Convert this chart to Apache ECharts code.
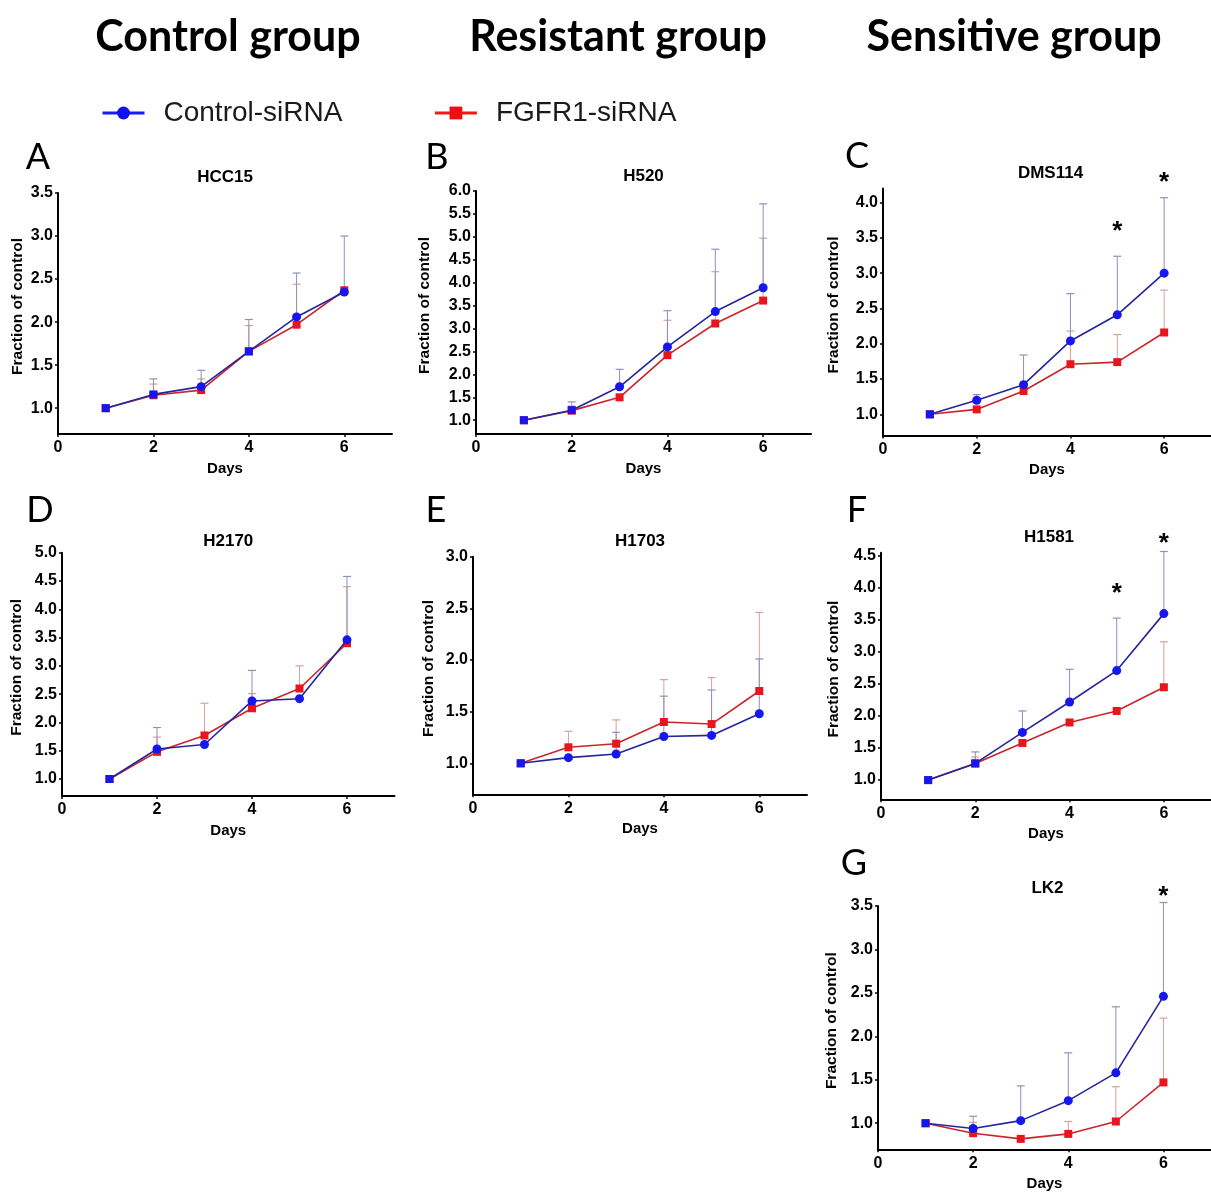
<!DOCTYPE html>
<html><head><meta charset="utf-8">
<script src="https://cdn.jsdelivr.net/npm/echarts@6/dist/echarts.min.js"></script>
<style>html,body{margin:0;padding:0;background:#fff}#chart{width:1211px;height:1195px}</style>
</head><body><div id="chart"></div>
<script>
// ---------- DATA ----------
const days = [1, 2, 3, 4, 5, 6];
const xTickLabels = [0, 2, 4, 6];
const seriesNames = ['Control-siRNA', 'FGFR1-siRNA'];
const groupTitles = ['Control group', 'Resistant group', 'Sensitive group'];
const panelLetters = ['A', 'B', 'C', 'D', 'E', 'F', 'G'];
const cellLines = ['HCC15', 'H520', 'DMS114', 'H2170', 'H1703', 'H1581', 'LK2'];

// HCC15
const ctrlHCC15 = [1.00, 1.16, 1.25, 1.66, 2.06, 2.35];
const fgfrHCC15 = [1.00, 1.15, 1.21, 1.66, 1.97, 2.37];
const ctrlErrHCC15 = [null, 1.34, 1.44, 2.03, 2.57, 3.00];
const fgfrErrHCC15 = [null, 1.28, 1.34, 1.96, 2.44, null];
const yTicksHCC15 = [1.0, 1.5, 2.0, 2.5, 3.0, 3.5];
// H520
const ctrlH520 = [1.00, 1.22, 1.73, 2.60, 3.37, 3.89];
const fgfrH520 = [1.00, 1.21, 1.50, 2.42, 3.11, 3.61];
const ctrlErrH520 = [null, 1.40, 2.11, 3.39, 4.73, 5.72];
const fgfrErrH520 = [null, 1.31, null, 3.18, 4.24, 4.97];
const yTicksH520 = [1.0, 1.5, 2.0, 2.5, 3.0, 3.5, 4.0, 4.5, 5.0, 5.5, 6.0];
// DMS114
const ctrlDMS114 = [1.00, 1.20, 1.42, 2.04, 2.41, 3.00];
const fgfrDMS114 = [1.00, 1.07, 1.33, 1.71, 1.74, 2.16];
const ctrlErrDMS114 = [null, 1.28, 1.84, 2.71, 3.24, 4.07];
const fgfrErrDMS114 = [null, null, null, 2.18, 2.13, 2.76];
const yTicksDMS114 = [1.0, 1.5, 2.0, 2.5, 3.0, 3.5, 4.0];
const starDaysDMS114 = [5, 6];
const starLevelsDMS114 = [3.67, 4.37];
// H2170
const ctrlH2170 = [1.00, 1.53, 1.61, 2.38, 2.42, 3.46];
const fgfrH2170 = [1.00, 1.48, 1.77, 2.25, 2.60, 3.40];
const ctrlErrH2170 = [null, 1.91, null, 2.92, null, 4.58];
const fgfrErrH2170 = [null, 1.74, 2.34, 2.51, 3.00, 4.40];
const yTicksH2170 = [1.0, 1.5, 2.0, 2.5, 3.0, 3.5, 4.0, 4.5, 5.0];
// H1703
const ctrlH1703 = [1.00, 1.055, 1.09, 1.26, 1.27, 1.48];
const fgfrH1703 = [1.00, 1.155, 1.19, 1.40, 1.38, 1.70];
const ctrlErrH1703 = [null, null, 1.30, 1.65, 1.71, 2.01];
const fgfrErrH1703 = [null, 1.31, 1.42, 1.81, 1.83, 2.46];
const yTicksH1703 = [1.0, 1.5, 2.0, 2.5, 3.0];
// H1581
const ctrlH1581 = [1.00, 1.26, 1.745, 2.22, 2.71, 3.60];
const fgfrH1581 = [1.00, 1.26, 1.58, 1.90, 2.08, 2.45];
const ctrlErrH1581 = [null, 1.44, 2.08, 2.73, 3.53, 4.57];
const fgfrErrH1581 = [null, 1.36, null, null, null, 3.16];
const yTicksH1581 = [1.0, 1.5, 2.0, 2.5, 3.0, 3.5, 4.0, 4.5];
const starDaysH1581 = [5, 6];
const starLevelsH1581 = [4.01, 4.78];
// LK2
const ctrlLK2 = [1.00, 0.94, 1.03, 1.26, 1.58, 2.46];
const fgfrLK2 = [1.00, 0.885, 0.82, 0.877, 1.02, 1.47];
const ctrlErrLK2 = [null, 1.08, 1.43, 1.81, 2.34, 3.54];
const fgfrErrLK2 = [null, 1.01, null, 1.02, 1.42, 2.21];
const yTicksLK2 = [1.0, 1.5, 2.0, 2.5, 3.0, 3.5];
const starDaysLK2 = [6];
const starLevelsLK2 = [3.68];

// ---------- LAYOUT ----------
const layout = [
  { left: 58,  top: 193,   width: 334, height: 241,   ymax: 3.5,  nameGap: 32, titleY: 177, letter: [38, 157] },
  { left: 476, top: 191,   width: 335, height: 243,   ymax: 6.0,  nameGap: 43, titleY: 176, letter: [437, 157] },
  { left: 883, top: 188.5, width: 337, height: 247,   ymax: 4.2,  nameGap: 41, titleY: 173, letter: [857, 156] },
  { left: 62,  top: 552.7, width: 332.5, height: 243.3, ymax: 5.0, nameGap: 37, titleY: 541, letter: [40, 510] },
  { left: 473, top: 556.7, width: 334, height: 237.6, ymax: 3.0,  nameGap: 36, titleY: 541, letter: [436, 510] },
  { left: 881, top: 552.8, width: 338, height: 246.5, ymax: 4.55, nameGap: 39, titleY: 537, letter: [857, 510] },
  { left: 878, top: 906,   width: 341, height: 243.3, ymax: 3.5,  nameGap: 38, titleY: 888, letter: [854, 863] }
];

const panels = [
  { ctrl: ctrlHCC15, fgfr: fgfrHCC15, ctrlErr: ctrlErrHCC15, fgfrErr: fgfrErrHCC15, yTicks: yTicksHCC15, starDays: [], starLevels: [] },
  { ctrl: ctrlH520, fgfr: fgfrH520, ctrlErr: ctrlErrH520, fgfrErr: fgfrErrH520, yTicks: yTicksH520, starDays: [], starLevels: [] },
  { ctrl: ctrlDMS114, fgfr: fgfrDMS114, ctrlErr: ctrlErrDMS114, fgfrErr: fgfrErrDMS114, yTicks: yTicksDMS114, starDays: starDaysDMS114, starLevels: starLevelsDMS114 },
  { ctrl: ctrlH2170, fgfr: fgfrH2170, ctrlErr: ctrlErrH2170, fgfrErr: fgfrErrH2170, yTicks: yTicksH2170, starDays: [], starLevels: [] },
  { ctrl: ctrlH1703, fgfr: fgfrH1703, ctrlErr: ctrlErrH1703, fgfrErr: fgfrErrH1703, yTicks: yTicksH1703, starDays: [], starLevels: [] },
  { ctrl: ctrlH1581, fgfr: fgfrH1581, ctrlErr: ctrlErrH1581, fgfrErr: fgfrErrH1581, yTicks: yTicksH1581, starDays: starDaysH1581, starLevels: starLevelsH1581 },
  { ctrl: ctrlLK2, fgfr: fgfrLK2, ctrlErr: ctrlErrLK2, fgfrErr: fgfrErrLK2, yTicks: yTicksLK2, starDays: starDaysLK2, starLevels: starLevelsLK2 }
];

// ---------- STYLE ----------
const FONT = 'Liberation Sans, Arial, sans-serif';
const BLUE_LINE = '#25259c', BLUE_MARK = '#1616ee';
const RED_LINE = '#c9262c', RED_MARK = '#e8161c';
const BLUE_ERR = '#8f8fbf', RED_ERR = '#d7a0a0';

function errRender(params, api) {
  const x = api.value(0), m = api.value(1), t = api.value(2);
  const p0 = api.coord([x, m]), p1 = api.coord([x, t]);
  const c = api.visual('color');
  return { type: 'group', children: [
    { type: 'line', shape: { x1: p0[0], y1: p0[1], x2: p1[0], y2: p1[1] }, style: { stroke: c, lineWidth: 1 } },
    { type: 'line', shape: { x1: p1[0] - 4, y1: p1[1], x2: p1[0] + 4, y2: p1[1] }, style: { stroke: c, lineWidth: 1.2 } }
  ]};
}
function starRender(params, api) {
  const p = api.coord([api.value(0), api.value(1)]);
  return { type: 'text', x: p[0], y: p[1] + 6,
    style: { text: '*', font: 'bold 26px ' + FONT, fill: '#000', textAlign: 'center', textVerticalAlign: 'middle' } };
}

const grid = [], xAxis = [], yAxis = [], series = [], graphics = [];
panels.forEach((p, i) => {
  const L = layout[i];
  grid.push({ left: L.left, top: L.top, width: L.width, height: L.height });
  xAxis.push({
    gridIndex: i, type: 'value', min: 0, max: 7,
    axisLine: { show: true, onZero: false, lineStyle: { color: '#000', width: 2 } },
    axisTick: { show: true, length: 3, customValues: xTickLabels, lineStyle: { color: '#000', width: 1.5 } },
    axisLabel: { customValues: xTickLabels, fontFamily: FONT, fontWeight: 'bold', fontSize: 16, color: '#000', margin: 6 },
    splitLine: { show: false },
    name: 'Days', nameLocation: 'middle', nameGap: 27,
    nameTextStyle: { fontFamily: FONT, fontWeight: 'bold', fontSize: 15, color: '#000' }
  });
  yAxis.push({
    gridIndex: i, type: 'value', min: 0.7, max: L.ymax,
    axisLine: { show: true, onZero: false, lineStyle: { color: '#000', width: 2 } },
    axisTick: { show: true, length: 3, customValues: p.yTicks, lineStyle: { color: '#000', width: 1.5 } },
    axisLabel: { customValues: p.yTicks, formatter: v => v.toFixed(1), fontFamily: FONT, fontWeight: 'bold', fontSize: 16, color: '#000', margin: 5 },
    splitLine: { show: false },
    name: 'Fraction of control', nameLocation: 'middle', nameGap: L.nameGap,
    nameTextStyle: { fontFamily: FONT, fontWeight: 'bold', fontSize: 15.5, color: '#000', padding: [0, 0, 0, 14] }
  });
  const errData = (vals, errs) => days.map((d, k) => errs[k] == null ? null : [d, vals[k], errs[k]]).filter(v => v);
  series.push({ type: 'custom', name: 'errF' + i, xAxisIndex: i, yAxisIndex: i, renderItem: errRender,
    itemStyle: { color: RED_ERR }, encode: { x: 0, y: [1, 2] }, data: errData(p.fgfr, p.fgfrErr), z: 1, silent: true });
  series.push({ type: 'custom', name: 'errC' + i, xAxisIndex: i, yAxisIndex: i, renderItem: errRender,
    itemStyle: { color: BLUE_ERR }, encode: { x: 0, y: [1, 2] }, data: errData(p.ctrl, p.ctrlErr), z: 1, silent: true });
  series.push({ type: 'line', name: seriesNames[1], xAxisIndex: i, yAxisIndex: i,
    data: days.map((d, k) => [d, p.fgfr[k]]), symbol: 'rect', symbolSize: 8, showAllSymbol: true,
    lineStyle: { color: RED_LINE, width: 1.6 }, itemStyle: { color: RED_MARK }, z: 3 });
  series.push({ type: 'line', name: seriesNames[0], xAxisIndex: i, yAxisIndex: i,
    data: days.map((d, k) => {
      const same = Math.abs(p.ctrl[k] - p.fgfr[k]) < 0.02;
      return same ? { value: [d, p.ctrl[k]], symbol: 'rect', symbolSize: 8 } : [d, p.ctrl[k]];
    }), symbol: 'circle', symbolSize: 9, showAllSymbol: true,
    lineStyle: { color: BLUE_LINE, width: 1.6 }, itemStyle: { color: BLUE_MARK }, z: 4 });
  if (p.starDays.length) {
    series.push({ type: 'custom', name: 'stars' + i, xAxisIndex: i, yAxisIndex: i, renderItem: starRender,
      clip: false, data: p.starDays.map((d, k) => [d, p.starLevels[k]]), z: 5, silent: true });
  }
  graphics.push({ type: 'text', x: L.left + L.width / 2 - (i === 2 || i === 5 || i === 6 ? 1 : 0), y: L.titleY,
    style: { text: cellLines[i], font: 'bold 17px ' + FONT, fill: '#000', textAlign: 'center', textVerticalAlign: 'middle' } });
  graphics.push({ type: 'text', x: L.letter[0], y: L.letter[1],
    style: { text: panelLetters[i], font: '36px Lato, sans-serif', fill: '#000', textAlign: 'center', textVerticalAlign: 'middle' } });
});

const headerX = [228, 618, 1014];
groupTitles.forEach((t, j) => {
  graphics.push({ type: 'text', x: headerX[j], y: 37,
    style: { text: t, font: 'bold 43px Lato, sans-serif', fill: '#000', textAlign: 'center', textVerticalAlign: 'middle' } });
});

const chart = echarts.init(document.getElementById('chart'), null, { renderer: 'canvas' });
chart.setOption({
  animation: false,
  backgroundColor: '#fff',
  legend: {
    data: [
      { name: seriesNames[0], itemStyle: { color: '#1010f0' }, lineStyle: { color: '#1a1af5', width: 3 } },
      { name: seriesNames[1], itemStyle: { color: '#ee1010' }, lineStyle: { color: '#f01a1a', width: 3 } }
    ],
    left: 96, top: 94, itemWidth: 42, itemHeight: 16, itemGap: 91,
    selectedMode: false,
    textStyle: { fontFamily: FONT, fontSize: 28, color: '#1a1a1a', padding: [0, 0, 0, 14] }
  },
  grid, xAxis, yAxis, series,
  graphic: graphics
});
</script></body></html>
